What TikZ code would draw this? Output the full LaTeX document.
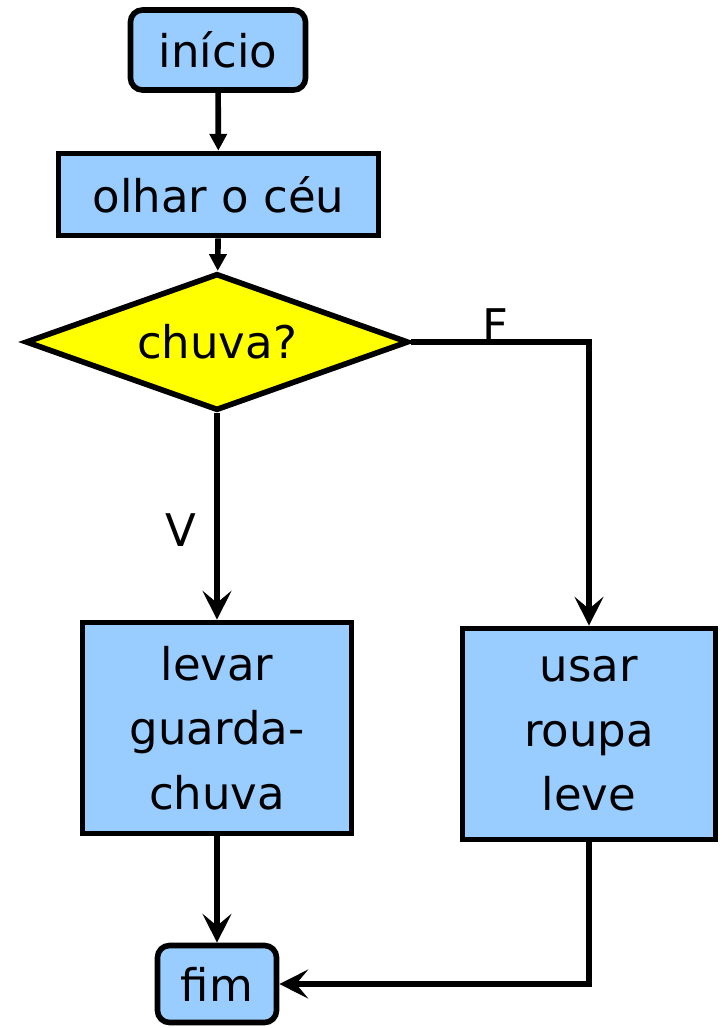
\documentclass[tikz,border=0pt]{standalone}
\usepackage{fontspec}
\setmainfont{DejaVu Sans}
\usetikzlibrary{shapes.geometric,arrows.meta}
\definecolor{caixa}{RGB}{153,204,255}
\definecolor{losango}{RGB}{255,255,0}
\begin{document}
\begin{tikzpicture}[x=0.025cm, y=-0.025cm, line width=0.14cm,
	font=\fontsize{32}{46}\selectfont,
	term/.style={draw, fill=caixa, rounded corners=0.3cm, inner sep=0pt},
	proc/.style={draw, fill=caixa, inner sep=0pt, align=center},
	decisao/.style={draw, fill=losango, diamond, aspect=2.8, inner sep=0pt},
	seta/.style={-{Triangle[length=0.42cm,width=0.42cm]}},
	setab/.style={-{Stealth[length=0.72cm,width=0.72cm,inset=0.3cm]}}]

\useasboundingbox (0,0) rectangle (722,1028);

\node [term, minimum width=4.375cm, minimum height=2cm] (inicio) at (218, 50) {início};
\node [proc, minimum width=8cm, minimum height=2.05cm] (olhar) at (218.5, 194.5) {olhar o céu};
\node [decisao, minimum width=9.575cm, minimum height=3.425cm] (chuva) at (217, 342) {chuva?};
\node [proc, minimum width=6.725cm, minimum height=5.275cm] (levar) at (217, 728) {levar\\guarda-\\chuva};
\node [proc, minimum width=6.325cm, minimum height=5.275cm] (usar) at (589, 734) {usar\\roupa\\leve};
\node [term, minimum width=2.975cm, minimum height=1.925cm] (fim) at (217, 984) {fim};

% ligacoes
\draw [seta] (inicio) -- (olhar);
\draw [seta] (olhar) -- (chuva);
\draw [setab] (chuva.south) -- (levar.north);
\draw [setab] (chuva.east) -| (usar.north);
\draw [setab] (levar) -- (fim);
\draw [setab] (usar.south) |- (fim.east);

\node (v) at (181, 530) {V};
\node (f) at (495, 325) {F};
\end{tikzpicture}
\end{document}
